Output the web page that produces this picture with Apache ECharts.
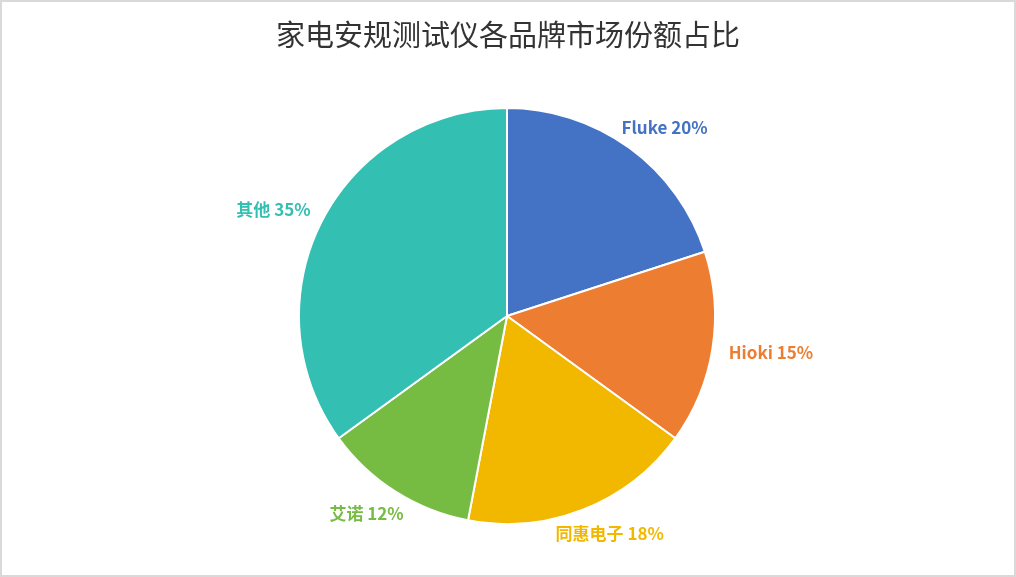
<!DOCTYPE html>
<html lang="zh">
<head>
    <meta charset="UTF-8">
    <title>家电安规测试仪各品牌市场份额占比</title>
    <script src="https://cdn.jsdelivr.net/npm/echarts@6/dist/echarts.min.js"></script>
    <style>
        html, body { margin: 0; padding: 0; background: #fff; }
        #main { width: 1016px; height: 577px; box-sizing: border-box; border: 2px solid #d9d9d9; }
    </style>
</head>
<body>
<div id="main"></div>
<script>
    // 数据
    var brands = ['Fluke', 'Hioki', '同惠电子', '艾诺', '其他'];
    var shares = [20, 15, 18, 12, 35];
    var colors = ['#4472C4', '#ED7D31', '#F2B800', '#76BC42', '#33BFB2'];

    var cx = 505, cy = 314, R = 208;   // 饼图中心与半径 (容器内坐标)
    var total = shares.reduce(function (a, b) { return a + b; }, 0);

    // 每块扇区中心角度 (从正上方顺时针)
    function midAngle(idx) {
        var acc = 0;
        for (var i = 0; i < idx; i++) acc += shares[i];
        return (acc + shares[idx] / 2) / total * Math.PI * 2;
    }

    var pieData = [];
    for (var i = 0; i < brands.length; i++) {
        pieData.push({
            name: brands[i],
            value: shares[i],
            itemStyle: {color: colors[i]},
            label: {color: colors[i]}
        });
    }

    var chart = echarts.init(document.getElementById('main'));
    var option = {
        animation: false,
        title: {
            text: '家电安规测试仪各品牌市场份额占比',
            left: 'center',
            top: 13,
            textStyle: {
                fontFamily: '"Noto Sans CJK SC", serif',
                fontSize: 29,
                fontWeight: 'normal',
                color: '#333'
            }
        },
        series: [{
            type: 'pie',
            center: [cx, cy],
            radius: R,
            startAngle: 90,
            clockwise: true,
            itemStyle: {borderColor: '#fff', borderWidth: 2},
            label: {
                show: true,
                position: 'outside',
                fontFamily: '"Noto Sans CJK SC", sans-serif',
                fontSize: 17,
                fontWeight: 'bold',
                formatter: function (p) { return p.name + ' ' + p.value + '%'; }
            },
            labelLine: {show: false},
            // 标签放在扇区外侧 (类似 Excel 的“数据标签外”)
            labelLayout: function (p) {
                var a = midAngle(p.dataIndex);
                var dx = Math.sin(a), dy = -Math.cos(a);
                var w = p.labelRect.width, h = p.labelRect.height;
                return {
                    x: cx + dx * (R + 17) + dx * w / 2,
                    y: cy + dy * (R + 17) + dy * h / 2,
                    align: 'center',
                    verticalAlign: 'middle'
                };
            },
            data: pieData
        }]
    };
    chart.setOption(option);
</script>
</body>
</html>
